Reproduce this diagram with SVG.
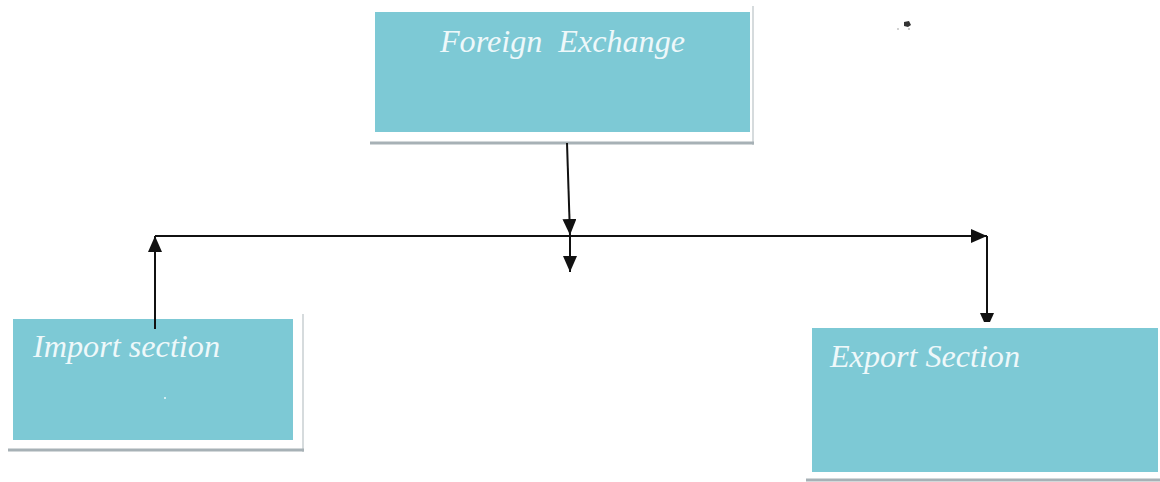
<svg xmlns="http://www.w3.org/2000/svg" width="1160" height="482" viewBox="0 0 1160 482">
  <style>
    .box { fill: #7dc9d5; }
    .shade-b { stroke: #a7b1b6; stroke-width: 3; }
    .shade-r { stroke: #c9cfd2; stroke-width: 1.5; }
    .label { font-family: "Liberation Serif", "Times New Roman", serif; font-style: italic; font-size: 31px; fill: #eef8fa; }
    .wire { stroke: #111; stroke-width: 2; fill: none; }
    .head { fill: #111; }
  </style>
  <defs>
    <marker id="arrow" viewBox="0 0 16 14" refX="16" refY="7" markerWidth="16" markerHeight="14" markerUnits="userSpaceOnUse" orient="auto">
      <path class="head" d="M0,0 L16,7 L0,14 Z"/>
    </marker>
  </defs>
  <rect width="1160" height="482" fill="#ffffff"/>

  <g id="foreign-exchange">
    <line class="shade-r" x1="753" y1="6" x2="753" y2="145"/>
    <line class="shade-b" x1="370" y1="143" x2="754" y2="143"/>
    <rect class="box" x="375" y="12" width="375" height="120"/>
    <text class="label" x="440" y="52" textLength="245" lengthAdjust="spacingAndGlyphs" xml:space="preserve">Foreign  Exchange</text>
  </g>

  <g id="import-section">
    <line class="shade-r" x1="303" y1="314" x2="303" y2="452"/>
    <line class="shade-b" x1="8" y1="450" x2="304" y2="450"/>
    <rect class="box" x="13" y="319" width="280" height="121"/>
    <text class="label" x="33" y="357" textLength="187" lengthAdjust="spacingAndGlyphs">Import section</text>
    <circle cx="165" cy="398" r="1" fill="#eef8fa"/>
  </g>

  <g id="export-section">
    <line class="shade-b" x1="806" y1="480" x2="1160" y2="480"/>
    <rect class="box" x="812" y="328" width="346" height="144"/>
    <text class="label" x="830" y="367" textLength="190" lengthAdjust="spacingAndGlyphs">Export Section</text>
  </g>

  <g id="connectors">
    <line class="wire" x1="567" y1="143" x2="570" y2="235" marker-end="url(#arrow)"/>
    <line class="wire" x1="570" y1="236" x2="570" y2="272" marker-end="url(#arrow)"/>
    <line class="wire" x1="155" y1="236" x2="987" y2="236" marker-end="url(#arrow)"/>
    <line class="wire" x1="155" y1="329" x2="155" y2="236" marker-end="url(#arrow)"/>
    <line class="wire" x1="987" y1="236" x2="987" y2="316"/>
    <polygon class="head" points="980,313 994,313 990,322 984,322"/>
  </g>

  <g id="speck">
    <path d="M904,22 L909,21 L911,25 L908,27 L904,26 Z" fill="#333"/>
    <circle cx="898" cy="29" r="0.8" fill="#999"/>
    <circle cx="909" cy="29" r="0.8" fill="#888"/>
  </g>
</svg>
